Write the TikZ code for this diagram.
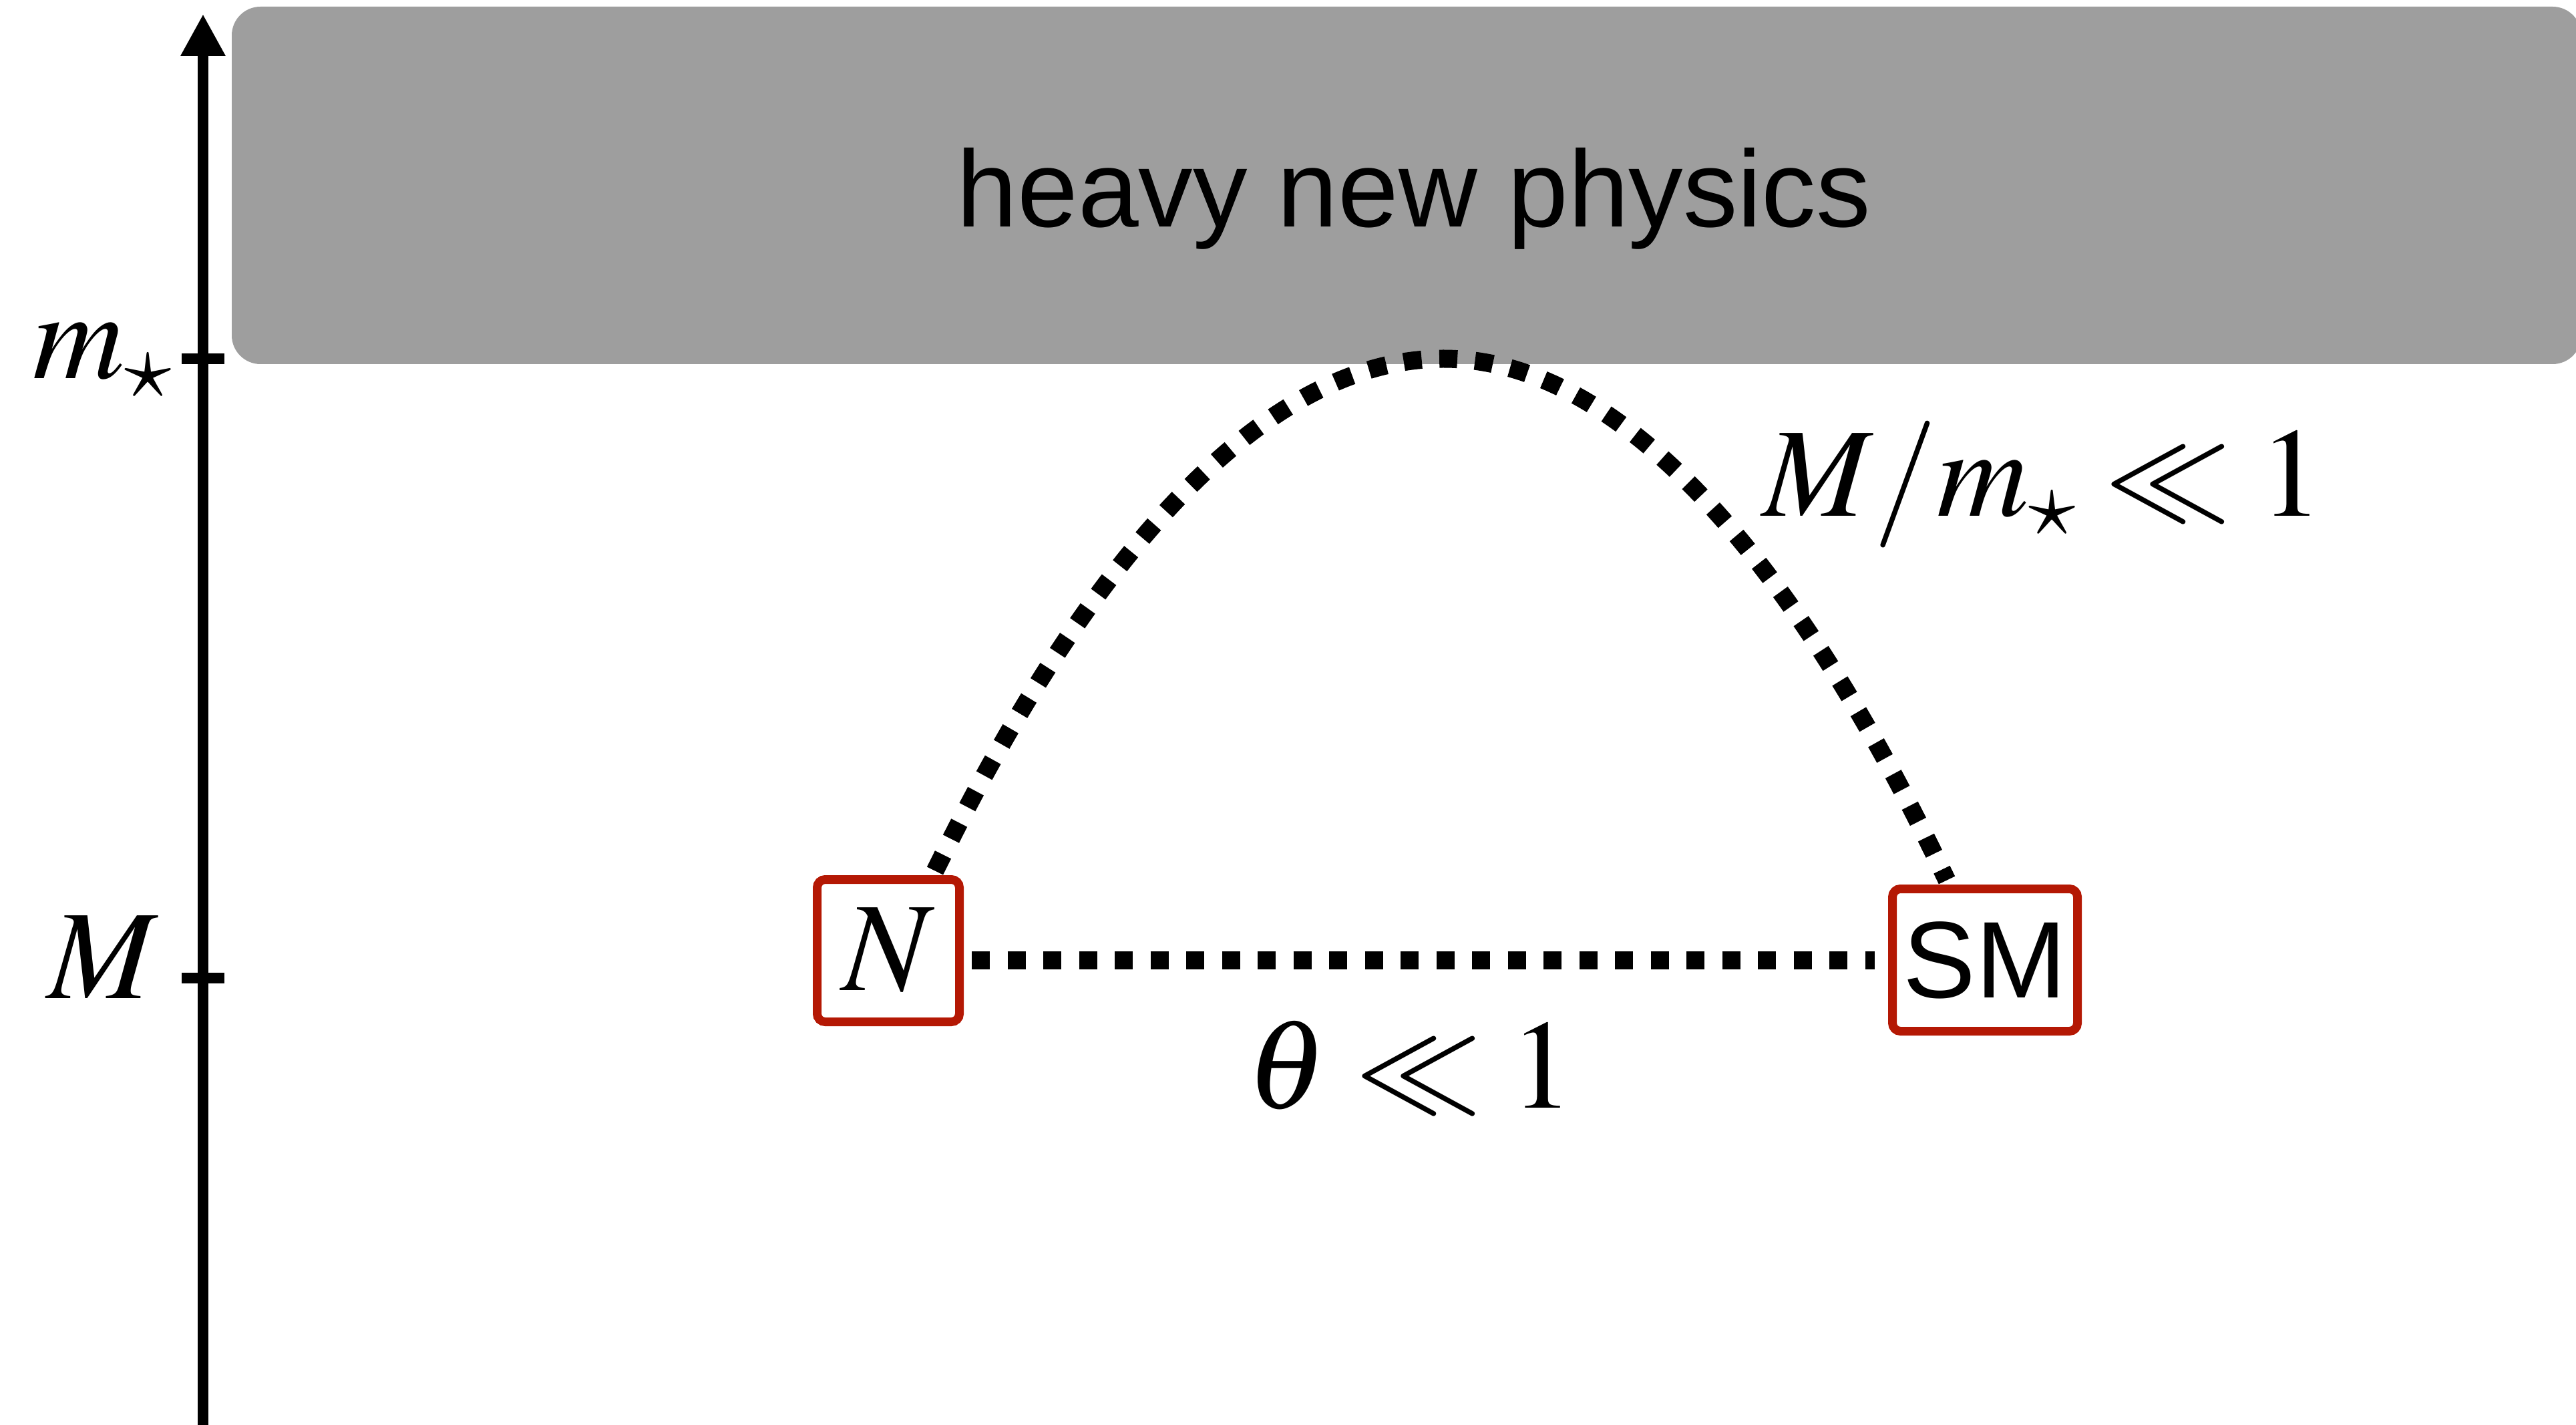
\documentclass[tikz,border=0pt]{standalone}
\usepackage{mathptmx}
\usepackage[no-math]{fontspec}
\setsansfont{Liberation Sans}
\usepackage{tikz}
\usetikzlibrary{arrows.meta, positioning, calc}
\definecolor{npgray}{RGB}{158,158,158}
\definecolor{boxred}{RGB}{180,24,4}

\begin{document}
\begin{tikzpicture}[
    axis/.style={line width=0.16cm},
    heavybox/.style={rectangle, fill=npgray, rounded corners=0.43cm,
                     minimum width=35.18cm, minimum height=5.35cm, inner sep=0pt},
    partbox/.style={rectangle, draw=boxred, fill=white, line width=0.13cm,
                    rounded corners=0.12cm, minimum height=2.13cm, inner sep=0pt},
    dotline/.style={line width=0.27cm, dash pattern=on 0.27cm off 0.265cm},
    mlabel/.style={font=\fontsize{54}{60}\selectfont, inner sep=0pt},
    slabel/.style={font=\sffamily\fontsize{46.4}{52}\selectfont, inner sep=0pt},
]
\useasboundingbox (0,0) rectangle (38.57,21.32);

% Heavy sector
\node[heavybox] (heavy) at (21.06,18.545) {};
\node[slabel, anchor=base] (hnp) at ([xshift=0.11cm, yshift=-0.625cm]heavy.center)
      {heavy new physics};

% Mass axis
\coordinate (axbot) at (3.04,-0.1);
\coordinate (axtop) at (3.04,21.11);
\coordinate (mstar) at (3.04,15.95);
\coordinate (mlight) at (3.04,6.68);
\draw[axis, -{Triangle[length=0.63cm, width=0.63cm]}] (axbot) -- (axtop);
\draw[axis] ([xshift=-0.32cm]mstar) -- ([xshift=0.32cm]mstar);
\draw[axis] ([xshift=-0.32cm]mlight) -- ([xshift=0.32cm]mlight);
\node[mlabel, anchor=base east] (mstarlab) at ([xshift=-0.45cm, yshift=-0.30cm]mstar) {$m_\star$};
\node[mlabel, anchor=base east] (mlightlab) at ([xshift=-0.66cm, yshift=-0.30cm]mlight) {$M$};

% Light states
\node[partbox, minimum width=2.13cm] (N) at (13.30,7.09) {\fontsize{54}{60}\selectfont$N$};
\node[partbox, minimum width=2.77cm, font=\sffamily\fontsize{46.4}{52}\selectfont]
      (SM) at (29.72,6.95) {SM};

% Mixing and heavy exchange
\coordinate (peak) at (21.61,15.95);
\draw[dotline, shorten <=0.12cm, shorten >=0.205cm] (N.east |- SM.west) -- (SM.west);
\draw[dotline] ([xshift=0.7cm, yshift=0.065cm]N.north) parabola bend (peak)
      ([xshift=-0.57cm, yshift=0.065cm]SM.north);

\node[mlabel, anchor=base west] (suplab) at (26.39,13.59) {$M/m_\star \ll 1$};
\node[mlabel, anchor=base west] (mixlab) at (18.66,4.74) {$\theta \ll 1$};

\end{tikzpicture}
\end{document}
